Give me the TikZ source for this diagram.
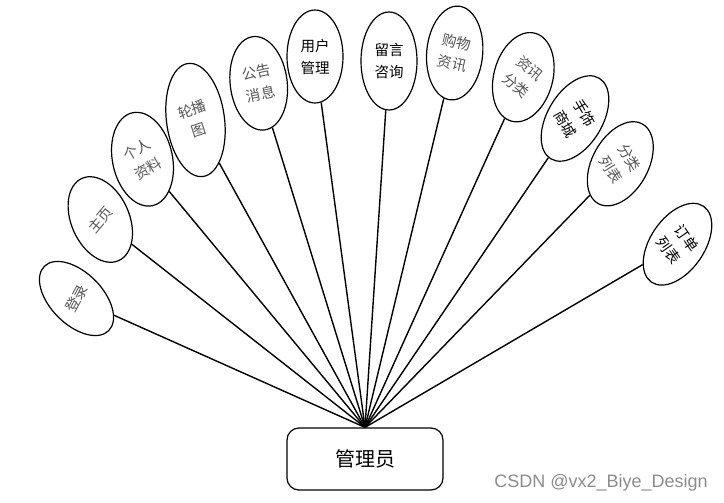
\documentclass[tikz,border=0pt]{standalone}
\usepackage{fontspec}
\newfontfamily\cjk{Noto Sans CJK SC}
\setsansfont{Liberation Sans}
\usetikzlibrary{shapes.geometric}
\definecolor{lighttxt}{RGB}{85,85,85}
\definecolor{wmgray}{RGB}{140,140,140}
\begin{document}
\begin{tikzpicture}[x=1pt,y=-1pt,
  oval/.style={ellipse, draw, line width=1.2pt, inner sep=0pt},
  lbl/.style={font=\cjk\fontsize{14.5}{22}\selectfont, align=center, inner sep=0pt},
  lt/.style={lbl, text=lighttxt},
  dk/.style={lbl, text=black},
  conn/.style={line width=1.4pt}]
\useasboundingbox (0,0) rectangle (724,503);

% ellipses
\node[oval, minimum width=52pt, minimum height=91pt, rotate=45]   (e1)  at (76.5,298.5) {};
\node[oval, minimum width=58pt, minimum height=90pt, rotate=24]   (e2)  at (100.3,219.5) {};
\node[oval, minimum width=60pt, minimum height=95pt, rotate=12]   (e3)  at (142.5,159.2) {};
\node[oval, minimum width=58pt, minimum height=114pt, rotate=7.5] (e4)  at (195.5,120) {};
\node[oval, minimum width=57pt, minimum height=94pt, rotate=7]    (e5)  at (258.7,83.3) {};
\node[oval, minimum width=56pt, minimum height=93pt]              (e6)  at (315,56.5) {};
\node[oval, minimum width=56pt, minimum height=98pt]              (e7)  at (389,61) {};
\node[oval, minimum width=56pt, minimum height=94pt, rotate=-5]   (e8)  at (454.7,53) {};
\node[oval, minimum width=59pt, minimum height=91pt, rotate=-15]  (e9)  at (523.3,77.2) {};
\node[oval, minimum width=55pt, minimum height=94pt, rotate=-31]  (e10) at (575,118.5) {};
\node[oval, minimum width=56pt, minimum height=91pt, rotate=-29]  (e11) at (620.3,163.8) {};
\node[oval, minimum width=54pt, minimum height=92pt, rotate=-34.5] (e12) at (677.5,244.2) {};

% labels
\node[lt, rotate=62]  (t1)  at (e1.center)  {登录};
\node[lt, rotate=50]  (t2)  at (e2.center)  {主页};
\node[lt, rotate=30]  (t3)  at (e3.center)  {个人\\资料};
\node[lt, rotate=18]  (t4)  at (e4.center)  {轮播\\图};
\node[lt, rotate=12]  (t5)  at (e5.center)  {公告\\消息};
\node[dk]             (t6)  at (e6.center)  {用户\\管理};
\node[dk]             (t7)  at (e7.center)  {留言\\咨询};
\node[lt, rotate=-13] (t8)  at (e8.center)  {购物\\资讯};
\node[lt, rotate=-40] (t9)  at (e9.center)  {资讯\\分类};
\node[dk, rotate=-60] (t10) at (e10.center) {手饰\\商城};
\node[lt, rotate=-58] (t11) at (e11.center) {分类\\列表};
\node[dk, rotate=-55] (t12) at (e12.center) {订单\\列表};

% admin box
\node[draw, rounded corners=12pt, line width=1.2pt, minimum width=156pt, minimum height=62pt,
      font=\cjk\fontsize{20}{20}\selectfont] (admin) at (365,459) {管理员};

% connectors
\foreach \i in {1,...,12}{
  \draw[conn] (admin.north) -- (e\i);
}

% watermark
\node[anchor=east, text=wmgray, font=\sffamily\fontsize{18}{18}\selectfont, inner sep=0pt] (wm) at (708,483) {CSDN @vx2\_Biye\_Design};
\end{tikzpicture}
\end{document}
